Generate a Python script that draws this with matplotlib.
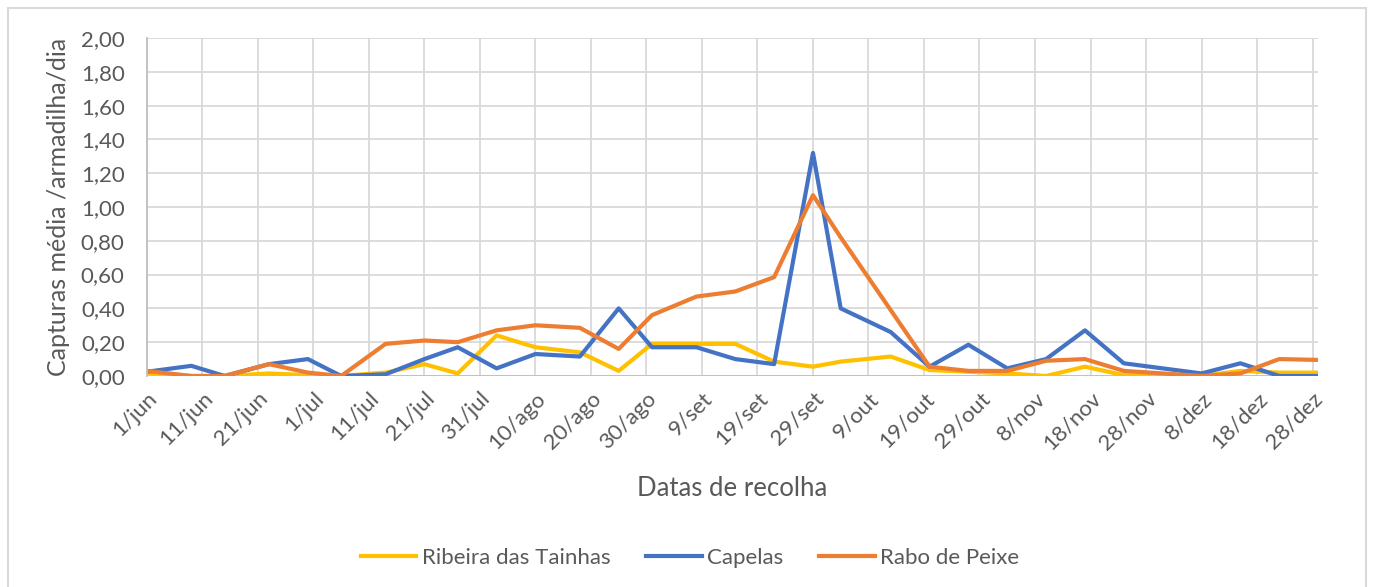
import pandas as pd
import matplotlib
matplotlib.use("Agg")
import matplotlib.pyplot as plt
from matplotlib.patches import Rectangle

plt.rcParams['font.family'] = ['Lato', 'DejaVu Sans']

# collection dates
datas = ["2021-06-01", "2021-06-09", "2021-06-15", "2021-06-23", "2021-06-30",
         "2021-07-06", "2021-07-14", "2021-07-21", "2021-07-27", "2021-08-03",
         "2021-08-10", "2021-08-18", "2021-08-25", "2021-08-31", "2021-09-08",
         "2021-09-15", "2021-09-22", "2021-09-29", "2021-10-04", "2021-10-13",
         "2021-10-20", "2021-10-27", "2021-11-03", "2021-11-10", "2021-11-17",
         "2021-11-24", "2021-12-01", "2021-12-08", "2021-12-15", "2021-12-22",
         "2021-12-29"]

ribeira = [0.02, 0.0, 0.0, 0.015, 0.005, 0.0, 0.02, 0.07, 0.015, 0.24,
           0.17, 0.14, 0.03, 0.19, 0.19, 0.19, 0.085, 0.055, 0.085, 0.115,
           0.035, 0.025, 0.015, 0.0, 0.055, 0.005, 0.0, 0.0, 0.03, 0.02, 0.02]

capelas = [0.025, 0.06, 0.0, 0.07, 0.10, 0.0, 0.01, 0.10, 0.17, 0.045,
           0.13, 0.115, 0.40, 0.17, 0.17, 0.10, 0.07, 1.32, 0.40, 0.26,
           0.055, 0.185, 0.045, 0.10, 0.27, 0.075, 0.045, 0.015, 0.075, 0.0, 0.0]

rabo = [0.03, 0.0, 0.0, 0.07, 0.02, 0.0, 0.19, 0.21, 0.20, 0.27,
        0.30, 0.285, 0.16, 0.36, 0.47, 0.50, 0.585, 1.07, 0.82, 0.39,
        0.055, 0.03, 0.03, 0.09, 0.10, 0.03, 0.015, 0.0, 0.015, 0.10, 0.095]

tick_labels = ["1/jun", "11/jun", "21/jun", "1/jul", "11/jul", "21/jul", "31/jul",
               "10/ago", "20/ago", "30/ago", "9/set", "19/set", "29/set", "9/out",
               "19/out", "29/out", "8/nov", "18/nov", "28/nov", "8/dez", "18/dez",
               "28/dez"]

x = pd.to_datetime(datas)
ticks = pd.date_range("2021-06-01", periods=len(tick_labels), freq="10D")

fig = plt.figure(figsize=(13.73, 5.87), dpi=100)
ax = fig.add_axes([0.107, 0.3595, 0.853, 0.5757])

# outer chart border
fig.patches.append(Rectangle((8/1373, -0.01), 1358/1373, 1 - 8/587 + 0.01,
                             transform=fig.transFigure, fill=False,
                             edgecolor="#d9d9d9", linewidth=1.5))

ax.plot(x, ribeira, color="#FFC000", linewidth=3.0, label="Ribeira das Tainhas")
ax.plot(x, capelas, color="#4472C4", linewidth=3.0, label="Capelas")
ax.plot(x, rabo, color="#ED7D31", linewidth=3.0, label="Rabo de Peixe")

ax.set_xlim(x[0], x[-1])
ax.set_ylim(0, 2.0)

ax.set_yticks([i * 0.2 for i in range(11)])
ax.set_yticklabels([f"{i * 0.2:.2f}".replace(".", ",") for i in range(11)])
ax.set_xticks(ticks)
ax.set_xticklabels(tick_labels, rotation=45, ha="right", rotation_mode="anchor")

ax.grid(True, color="#d9d9d9", linewidth=1.3)
ax.set_axisbelow(True)
for s in ["top", "right", "bottom"]:
    ax.spines[s].set_visible(False)
ax.spines["left"].set_color("#bfbfbf")
ax.spines["left"].set_linewidth(1.3)
ax.axhline(0, color="#bfbfbf", linewidth=1.3, zorder=1)

ax.tick_params(axis="both", length=0, labelsize=16, colors="#595959")
ax.tick_params(axis="y", pad=16)
ax.tick_params(axis="x", pad=9)

ax.set_ylabel("Capturas média /armadilha/dia", fontsize=18, color="#595959", labelpad=8)
ax.set_xlabel("Datas de recolha", fontsize=18.5, color="#595959", labelpad=16)

fig.legend(loc="center", bbox_to_anchor=(690/1373, 1 - 558/587), ncol=3, frameon=False,
           fontsize=16, labelcolor="#595959", handlelength=2.5, columnspacing=1.6,
           handletextpad=0.25)

fig.savefig("out.png", dpi=100)
